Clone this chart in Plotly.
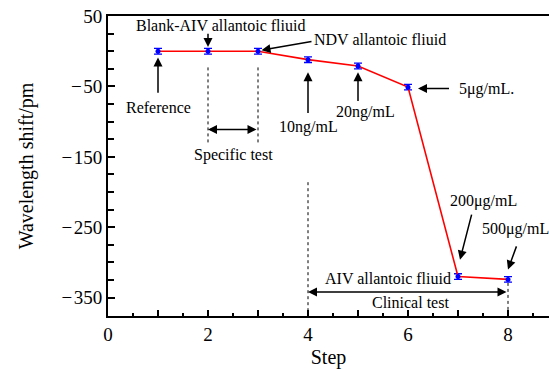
import plotly.graph_objects as go

steps = [1, 2, 3, 4, 5, 6, 7, 8]
shift = [0, 0, 0, -12, -21, -51, -320, -324]
err = [4, 4, 4, 4, 4, 4, 4, 4]

x_major = [0, 1, 2, 3, 4, 5, 6, 7, 8]
x_labels = ["0", "", "2", "", "4", "", "6", "", "8"]
x_minor = [0.5, 1.5, 2.5, 3.5, 4.5, 5.5, 6.5, 7.5, 8.5]
y_major = [50, -50, -150, -250, -350]
y_labels = ["50", "\u2212\u200a50", "\u2212\u200a150", "\u2212\u200a250", "\u2212\u200a350"]
y_minor = [25, 0, -25, -75, -100, -125, -175, -200, -225, -275, -300, -325, -375]

FONT = "Liberation Serif, Times New Roman, serif"

fig = go.Figure()
fig.add_trace(go.Scatter(
    x=steps, y=shift, mode="lines+markers",
    line=dict(color="#ff0000", width=1.6),
    marker=dict(color="#0000ff", size=5),
    error_y=dict(type="data", array=err, visible=True, color="#0000ff", thickness=1.3, width=4),
    showlegend=False,
))

# dashed guide lines
dash = dict(color="black", width=1, dash="dot")
fig.add_shape(type="line", x0=2, x1=2, y0=-23, y1=-133, line=dash)
fig.add_shape(type="line", x0=3, x1=3, y0=-23, y1=-133, line=dash)
fig.add_shape(type="line", x0=4, x1=4, y0=-186, y1=-376, line=dash)
fig.add_shape(type="line", x0=8, x1=8, y0=-329, y1=-376, line=dash)

anns = []
def text(t, x, y, xanchor="center"):
    anns.append(dict(x=x, y=y, xref="x", yref="y", text=t, showarrow=False,
                     xanchor=xanchor, yanchor="middle", font=dict(family=FONT, size=16, color="black")))

def arrow(x, y, ax, ay, side="end"):
    anns.append(dict(x=x, y=y, ax=ax, ay=ay, xref="x", yref="y", axref="x", ayref="y",
                     text="", showarrow=True, arrowhead=2, arrowsize=1.2, arrowwidth=1.5,
                     arrowcolor="black", arrowside=side, standoff=0, startstandoff=0))

text("Blank-AIV allantoic fliuid", 2.24, 36)
arrow(steps[1], 6, steps[1], 27)
text("NDV allantoic fliuid", 5.44, 17)
arrow(3.07, 1.5, 4.1, 14)
text("Reference", 1.0, -80)
arrow(steps[0], -9, steps[0], -61)
text("10ng/mL", 4.0, -107)
arrow(steps[3], -30, steps[3], -90)
text("20ng/mL", 5.14, -86)
arrow(steps[4], -30, steps[4], -73)
text("5\u03bcg/mL.", 6.98, -53, xanchor="left")
arrow(6.2, -53, 6.85, -53)
text("Specific test", 2.5, -148)
arrow(2, -111, 3, -111, side="end+start")
text("AIV allantoic fliuid", 5.6, -323)
arrow(4, -342, 8, -342, side="end+start")
text("Clinical test", 6.04, -357)
text("200\u03bcg/mL", 7.5, -212)
arrow(7.04, -296, 7.28, -230)
text("500\u03bcg/mL", 8.14, -253)
arrow(8.0, -310, 8.18, -275)

fig.update_layout(
    width=549, height=372,
    margin=dict(l=108, r=0, t=16, b=56),
    paper_bgcolor="white", plot_bgcolor="white",
    font=dict(family=FONT, color="black"),
    annotations=anns,
    xaxis=dict(
        range=[0, 8.82], showgrid=False, zeroline=False,
        showline=True, linecolor="black", linewidth=2, mirror=True,
        tickmode="array", tickvals=x_major, ticktext=x_labels,
        ticks="inside", ticklen=6, tickwidth=2, tickcolor="black",
        tickfont=dict(family=FONT, size=19),
        minor=dict(tickvals=x_minor, ticks="inside", ticklen=3, tickwidth=2, tickcolor="black"),
        title=dict(text="Step", font=dict(family=FONT, size=20), standoff=6),
    ),
    yaxis=dict(
        range=[-376, 50], showgrid=False, zeroline=False,
        showline=True, linecolor="black", linewidth=2,
        tickmode="array", tickvals=y_major, ticktext=y_labels,
        ticks="inside", ticklen=7, tickwidth=2, tickcolor="black",
        tickfont=dict(family=FONT, size=19),
        minor=dict(tickvals=y_minor, ticks="inside", ticklen=6, tickwidth=2, tickcolor="black"),
        title=dict(text="Wavelength shift/pm", font=dict(family=FONT, size=20), standoff=22),
    ),
)

fig.write_html("out.html")
